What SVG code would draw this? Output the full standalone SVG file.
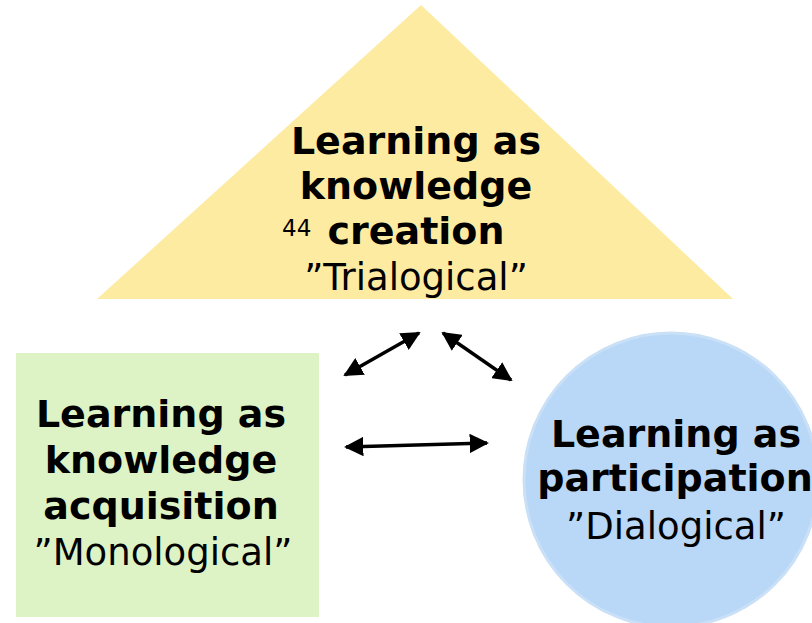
<svg xmlns="http://www.w3.org/2000/svg" width="812" height="623" viewBox="0 0 812 623">
<style>
.b{font-family:"DejaVu Sans",Verdana,sans-serif;font-weight:bold;font-size:38px;fill:#000;text-anchor:middle}
.r{font-family:"DejaVu Sans",Verdana,sans-serif;font-size:37px;fill:#000;text-anchor:middle}
.s{font-family:"DejaVu Sans",Verdana,sans-serif;font-size:23px;fill:#000}
.c{stroke:#000;stroke-width:3.5;fill:none;marker-start:url(#ah);marker-end:url(#ah)}
</style>
<defs>
<marker id="ah" viewBox="0 0 10 10" refX="9" refY="5" markerWidth="5.5" markerHeight="5.5" orient="auto-start-reverse" markerUnits="strokeWidth">
<path d="M0,0 L10,5 L0,10 z" fill="#000"/>
</marker>
</defs>
<rect width="812" height="623" fill="#fff"/>
<g id="creation">
<polygon points="421,5 733,299 97,299" fill="#FDEBA2"/>
<text class="b" x="416" y="154">Learning as</text>
<text class="b" x="416" y="199">knowledge</text>
<text class="s" x="282" y="236">44</text>
<text class="b" x="416" y="244">creation</text>
<text class="r" x="416" y="290">”Trialogical”</text>
</g>
<g id="acquisition">
<rect x="16" y="353" width="303" height="264" fill="#DDF2C5"/>
<text class="b" x="161" y="427">Learning as</text>
<text class="b" x="161" y="473">knowledge</text>
<text class="b" x="161" y="519">acquisition</text>
<text class="r" x="163" y="565">”Monological”</text>
</g>
<g id="participation">
<circle cx="671" cy="480" r="147" fill="#B9D7F6" stroke="#C9E0F7" stroke-width="3"/>
<text class="b" x="676" y="447">Learning as</text>
<text class="b" x="675" y="491">participation</text>
<text class="r" x="676" y="539">”Dialogical”</text>
</g>
<g id="connectors">
<line class="c" x1="345" y1="375" x2="419" y2="333"/>
<line class="c" x1="443" y1="333" x2="511" y2="380"/>
<line class="c" x1="346" y1="447" x2="487" y2="443"/>
</g>
</svg>
